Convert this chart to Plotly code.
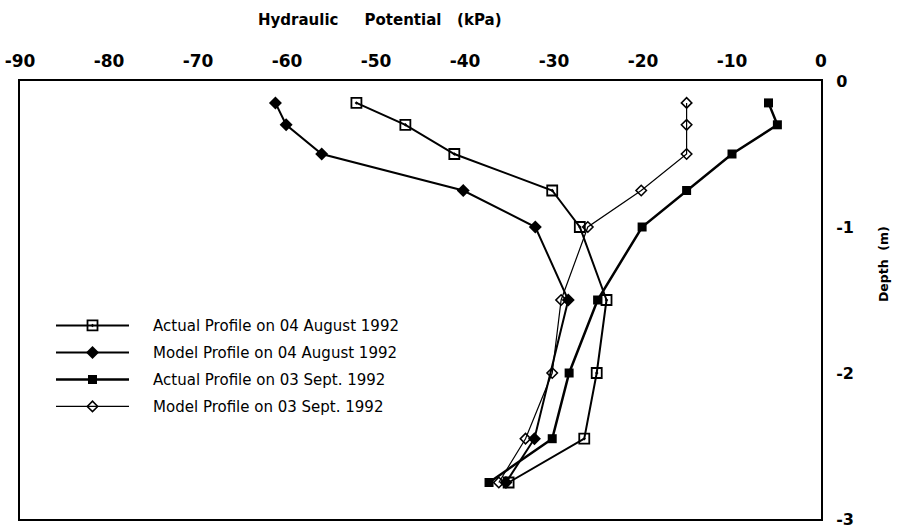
import plotly.graph_objects as go

depth = [0.15, 0.30, 0.50, 0.75, 1.00, 1.50, 2.00, 2.45, 2.75]
depth_model_aug = [0.15, 0.30, 0.50, 0.75, 1.00, 1.50, 2.45, 2.75]

actual_aug = [-52.2, -46.7, -41.2, -30.2, -27.1, -24.1, -25.2, -26.6, -35.1]
model_aug = [-61.3, -60.1, -56.1, -40.2, -32.1, -28.4, -32.2, -35.4]
actual_sep = [-5.9, -4.9, -10.0, -15.1, -20.1, -25.1, -28.3, -30.2, -37.3]
model_sep = [-15.1, -15.1, -15.1, -20.2, -26.2, -29.2, -30.2, -33.2, -36.2]

x_ticks = [-90, -80, -70, -60, -50, -40, -30, -20, -10, 0]
y_ticks = [0, -1, -2, -3]

FONT = "DejaVu Sans"
PAD = "&nbsp;" * 4

fig = go.Figure()

def neg(lst):
    return [-v for v in lst]

fig.add_trace(go.Scatter(
    x=actual_aug, y=neg(depth), mode="lines+markers",
    name=PAD + "Actual Profile on 04 August 1992", legendgroup="a",
    line=dict(color="black", width=2),
    marker=dict(symbol="square-open-dot", size=10, color="black", line=dict(width=1.8, color="black")),
))
fig.add_trace(go.Scatter(
    x=model_aug, y=neg(depth_model_aug), mode="lines+markers",
    name=PAD + "Model Profile on 04 August 1992", legendgroup="b",
    line=dict(color="black", width=2),
    marker=dict(symbol="diamond", size=10, color="black"),
))
fig.add_trace(go.Scatter(
    x=actual_sep, y=neg(depth), mode="lines+markers",
    name=PAD + "Actual Profile on 03 Sept. 1992", legendgroup="c",
    line=dict(color="black", width=2.5),
    marker=dict(symbol="square", size=9, color="black"),
))
fig.add_trace(go.Scatter(
    x=model_sep, y=neg(depth), mode="lines+markers",
    name=PAD + "Model Profile on 03 Sept. 1992", legendgroup="d",
    line=dict(color="black", width=1.2),
    marker=dict(symbol="diamond-open", size=8, color="black", line=dict(width=1.6, color="black")),
))

fig.update_layout(
    width=898, height=528,
    margin=dict(l=20, r=77, t=81, b=9, autoexpand=False),
    paper_bgcolor="white", plot_bgcolor="white",
    font=dict(family=FONT, color="black", size=15),
    showlegend=True,
    legend=dict(
        x=0.0387, y=0.479, xanchor="left", yanchor="top",
        bgcolor="rgba(0,0,0,0)", itemwidth=73,
        font=dict(family=FONT, size=15, color="black"),
        tracegroupgap=4.5, traceorder="grouped",
    ),
    xaxis=dict(
        side="top", range=[-90, 0], tickvals=x_ticks,
        ticktext=[str(v) for v in x_ticks],
        showgrid=False, zeroline=False, ticks="",
        showline=True, linecolor="black", linewidth=2, mirror=True,
        tickfont=dict(family=FONT, size=17, color="black", weight="bold"),
        ticklabelstandoff=5, automargin=False, ticklabeloverflow="allow",
    ),
    yaxis=dict(
        side="right", range=[-3, 0], tickvals=y_ticks,
        ticktext=[str(v) for v in y_ticks],
        showgrid=False, zeroline=False, ticks="",
        showline=True, linecolor="black", linewidth=2, mirror=True,
        tickfont=dict(family=FONT, size=16, color="black", weight="bold"),
        ticklabelstandoff=10, automargin=False, ticklabeloverflow="allow",
    ),
    annotations=[
        dict(text="<b>Hydraulic" + "&nbsp;" * 5 + "Potential" + "&nbsp;" * 3 + "(kPa)</b>",
             xref="paper", yref="paper",
             x=0.449, y=1.0, yshift=61, xanchor="center", yanchor="middle", showarrow=False,
             font=dict(family=FONT, size=15, color="black")),
        dict(text="<b>Depth&nbsp;&nbsp;(m)</b>", xref="paper", yref="paper",
             x=1.0, xshift=62, y=0.582, xanchor="center", yanchor="middle", textangle=-90,
             showarrow=False, font=dict(family=FONT, size=12.5, color="black")),
    ],
)

fig.write_html("out.html", config={"displayModeBar": False},
               post_script="document.body.style.margin='0';")
